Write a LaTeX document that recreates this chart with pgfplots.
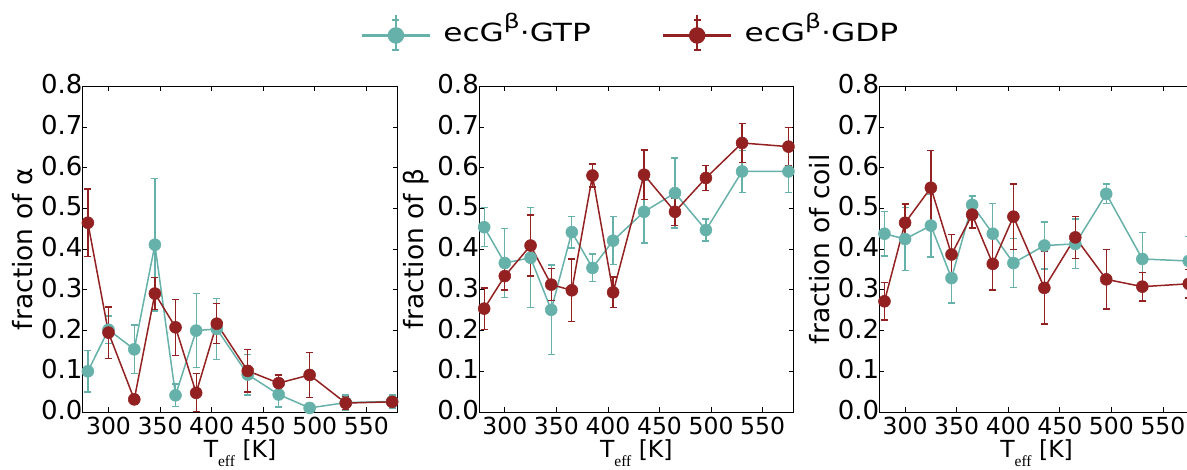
\documentclass[border=0pt]{standalone}
\usepackage{pgfplots}
\pgfplotsset{compat=1.18}
\usepackage{fontspec}
\setmainfont{DejaVu Sans}
\newfontfamily\serifsub{Liberation Serif}
\definecolor{gtp}{RGB}{102,177,169}
\definecolor{gdp}{RGB}{147,33,33}

\pgfplotsset{
  panel/.style={
    scale only axis, width=314.6pt, height=325.6pt,
    xmin=275, xmax=580, ymin=0, ymax=0.8,
    xtick={300,350,400,450,500,550},
    ytick={0,0.1,0.2,0.3,0.4,0.5,0.6,0.7,0.8},
    /pgf/number format/assume math mode=true,
    yticklabel style={/pgf/number format/fixed, /pgf/number format/fixed zerofill,
      /pgf/number format/precision=1, font=\fontsize{26}{26}\selectfont, inner sep=0pt, yshift=2pt},
    xticklabel style={font=\fontsize{23.5}{23.5}\selectfont, inner sep=0pt, yshift=-5pt},
    tick align=inside, major tick length=4.5pt,
    tick style={black, line width=0.8pt},
    xtick pos=both, ytick pos=both, xticklabel pos=bottom, yticklabel pos=left,
    axis line style={black, line width=0.9pt},
    ylabel style={at={(axis description cs:-0.158,0.5)}, anchor=south, inner sep=0pt,
      font=\fontsize{26.5}{26.5}\selectfont},
    xlabel style={at={(axis description cs:0.5,-0.140)}, anchor=base, inner sep=0pt,
      font=\fontsize{23.5}{23.5}\selectfont},
    xlabel={T\raisebox{-9pt}{\serifsub\fontsize{15.5}{15.5}\selectfont eff} [K]},
    clip=true,
  },
  gtpplot/.style={color=gtp, line width=1.5pt, mark=*, mark size=6pt,
    mark options={solid, fill=gtp, draw=gtp, line width=0.5pt},
    error bars/y dir=both, error bars/y explicit,
    error bars/error bar style={line width=1.3pt, gtp},
    error bars/error mark options={rotate=90, mark size=3.5pt, line width=1.3pt, gtp}},
  gdpplot/.style={color=gdp, line width=1.5pt, mark=*, mark size=6pt,
    mark options={solid, fill=gdp, draw=gdp, line width=0.5pt},
    error bars/y dir=both, error bars/y explicit,
    error bars/error bar style={line width=1.3pt, gdp},
    error bars/error mark options={rotate=90, mark size=3.5pt, line width=1.3pt, gdp}},
  legimg/.style={legend image code/.code={
    \path (34pt,-17.9pt) -- (34pt,17.9pt);
    \draw[#1, line width=2.7pt] (0pt,-2.9pt) -- (68pt,-2.9pt);
    \draw[#1, line width=2pt] (34pt,-17.9pt) -- (34pt,12.1pt);
    \draw[#1, line width=2pt] (30.5pt,-17.9pt) -- (37.5pt,-17.9pt) (30.5pt,12.1pt) -- (37.5pt,12.1pt);
    \fill[#1] (34pt,-2.9pt) circle (7.5pt);}},
}

\newcommand{\legtext}[1]{\scalebox{1.25}[1]{ecG\raisebox{13pt}[0pt][0pt]{\fontsize{20}{20}\selectfont β}·#1}}

\begin{document}
\begin{tikzpicture}
\useasboundingbox (0,0) rectangle (1187pt,469pt);

% ---------- panel 1: alpha ----------
\begin{axis}[panel, at={(82.7pt,57pt)}, anchor=south west, ylabel={fraction of α}]
\addplot[gtpplot] coordinates {
 (280,0.100) +- (0,0.051)
 (300,0.202) +- (0,0.034)
 (325,0.154) +- (0,0.060)
 (345,0.411) +- (0,0.163)
 (365,0.041) +- (0,0.028)
 (385,0.200) +- (0,0.091)
 (405,0.204) +- (0,0.075)
 (435,0.092) +- (0,0.050)
 (465,0.043) +- (0,0.031)
 (495,0.010) +- (0,0.008)
 (530,0.023) +- (0,0.019)
 (575,0.026) +- (0,0.016)
};
\addplot[gdpplot] coordinates {
 (280,0.465) +- (0,0.083)
 (300,0.195) +- (0,0.063)
 (325,0.031) +- (0,0.012)
 (345,0.291) +- (0,0.040)
 (365,0.208) +- (0,0.069)
 (385,0.047) +- (0,0.047)
 (405,0.217) +- (0,0.049)
 (435,0.101) +- (0,0.052)
 (465,0.071) +- (0,0.020)
 (495,0.091) +- (0,0.055)
 (530,0.022) +- (0,0.016)
 (575,0.025) +- (0,0.008)
};
\end{axis}

% ---------- panel 2: beta ----------
\begin{axis}[panel, at={(479pt,57pt)}, anchor=south west, ylabel={fraction of β},
  legend columns=2,
  legend style={at={(0.478,1.165)}, anchor=center, draw=none, fill=none,
    font=\fontsize{25}{25}\selectfont, nodes={inner sep=0pt},
    /tikz/every odd column/.append style={column sep=12pt},
    /tikz/every even column/.append style={column sep=71pt}},
  legend cell align=left]
\addplot[gtpplot, legimg=gtp] coordinates {
 (280,0.454) +- (0,0.048)
 (300,0.366) +- (0,0.085)
 (325,0.379) +- (0,0.123)
 (345,0.251) +- (0,0.110)
 (365,0.442) +- (0,0.039)
 (385,0.354) +- (0,0.034)
 (405,0.421) +- (0,0.059)
 (435,0.492) +- (0,0.077)
 (465,0.538) +- (0,0.086)
 (495,0.447) +- (0,0.027)
 (530,0.591) +- (0,0.052)
 (575,0.591) +- (0,0.051)
};
\addlegendentry{\legtext{GTP}}
\addplot[gdpplot, legimg=gdp] coordinates {
 (280,0.254) +- (0,0.051)
 (300,0.334) +- (0,0.034)
 (325,0.409) +- (0,0.075)
 (345,0.313) +- (0,0.039)
 (365,0.299) +- (0,0.077)
 (385,0.581) +- (0,0.028)
 (405,0.294) +- (0,0.038)
 (435,0.583) +- (0,0.061)
 (465,0.492) +- (0,0.034)
 (495,0.575) +- (0,0.031)
 (530,0.661) +- (0,0.048)
 (575,0.652) +- (0,0.047)
};
\addlegendentry{\legtext{GDP}}
\end{axis}

% ---------- panel 3: coil ----------
\begin{axis}[panel, at={(879.3pt,57pt)}, anchor=south west, ylabel={fraction of coil}]
\addplot[gtpplot] coordinates {
 (280,0.438) +- (0,0.055)
 (300,0.425) +- (0,0.078)
 (325,0.458) +- (0,0.077)
 (345,0.329) +- (0,0.061)
 (365,0.509) +- (0,0.022)
 (385,0.438) +- (0,0.074)
 (405,0.366) +- (0,0.060)
 (435,0.409) +- (0,0.058)
 (465,0.413) +- (0,0.061)
 (495,0.536) +- (0,0.024)
 (530,0.376) +- (0,0.065)
 (575,0.371) +- (0,0.060)
};
\addplot[gdpplot] coordinates {
 (280,0.272) +- (0,0.046)
 (300,0.465) +- (0,0.046)
 (325,0.551) +- (0,0.091)
 (345,0.387) +- (0,0.049)
 (365,0.485) +- (0,0.033)
 (385,0.364) +- (0,0.064)
 (405,0.480) +- (0,0.080)
 (435,0.305) +- (0,0.089)
 (465,0.429) +- (0,0.052)
 (495,0.326) +- (0,0.073)
 (530,0.308) +- (0,0.035)
 (575,0.315) +- (0,0.035)
};
\end{axis}
\end{tikzpicture}
\end{document}
